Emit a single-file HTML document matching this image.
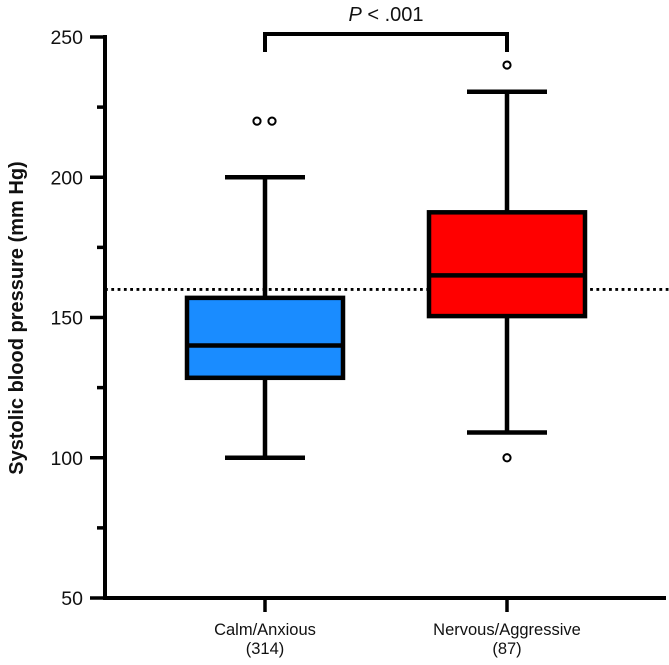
<!DOCTYPE html>
<html><head><meta charset="utf-8"><style>
body{margin:0;background:#fff}
svg{display:block;font-family:"Liberation Sans",Arial,sans-serif}
</style></head><body>
<svg id="chart" width="669" height="665" viewBox="0 0 669 665"></svg>
<script>
const categories=["Calm/Anxious","Nervous/Aggressive"];
const counts=["(314)","(87)"];
const q1=[128.5,150.5];
const median=[140,165];
const q3=[157,187.5];
const whiskerLow=[100,109];
const whiskerHigh=[200,230.5];
const outliers=[[220,220],[240,100]];
const outlierOffsets=[[-8,7],[0,0]];
const colors=["#1a8cff","#ff0000"];
const yTicks=[50,100,150,200,250];
const refLine=160;
const pLabel="< .001";

const NS="http://www.w3.org/2000/svg";
const svg=document.getElementById('chart');
const y0=598,y1=37,vmin=50,vmax=250;
const Y=v=>y0-(v-vmin)/(vmax-vmin)*(y0-y1);
const centers=[265,507];
const X=i=>centers[i];
function el(t,a,p){const e=document.createElementNS(NS,t);for(const k in a)e.setAttribute(k,a[k]);(p||svg).appendChild(e);return e;}
const AX=105,SW=4.5;
let a=el('line',{x1:AX,y1:Y(vmax)-2,x2:AX,y2:y0+2,stroke:'#000','stroke-width':4});


a=el('line',{x1:AX,y1:y0,x2:666,y2:y0,stroke:'#000','stroke-width':4});


yTicks.forEach((v,i)=>{
 const t=el('line',{x1:AX-15,y1:Y(v),x2:AX,y2:Y(v),stroke:'#000','stroke-width':3.5});
 
 
 const l=el('text',{x:83,y:Y(v)+7,'text-anchor':'end','font-size':19.5,fill:'#111'});
 l.textContent=v;
 
 
 if(i<yTicks.length-1){
  const m=el('line',{x1:AX-8,y1:Y(v+25),x2:AX,y2:Y(v+25),stroke:'#000','stroke-width':3.5});
  
  
 }
});
const yt=el('text',{x:0,y:0,transform:'translate(23,318) rotate(-90)','text-anchor':'middle','font-size':20,'font-weight':'bold',fill:'#111'});
yt.textContent='Systolic blood pressure (mm Hg)';


const rl=el('line',{x1:AX,y1:Y(refLine),x2:669,y2:Y(refLine),stroke:'#000','stroke-width':2.8,'stroke-dasharray':'2.8,3.5'});


categories.forEach((c,i)=>{
 const cx=X(i),hw=78,cw=40;
 const g=el('g',{});
 
 
 el('line',{x1:cx,y1:Y(whiskerHigh[i]),x2:cx,y2:Y(whiskerLow[i]),stroke:'#000','stroke-width':SW},g);
 el('line',{x1:cx-cw,y1:Y(whiskerHigh[i]),x2:cx+cw,y2:Y(whiskerHigh[i]),stroke:'#000','stroke-width':SW},g);
 el('line',{x1:cx-cw,y1:Y(whiskerLow[i]),x2:cx+cw,y2:Y(whiskerLow[i]),stroke:'#000','stroke-width':SW},g);
 el('rect',{x:cx-hw,y:Y(q3[i]),width:2*hw,height:Y(q1[i])-Y(q3[i]),fill:colors[i],stroke:'#000','stroke-width':SW},g);
 el('line',{x1:cx-hw,y1:Y(median[i]),x2:cx+hw,y2:Y(median[i]),stroke:'#000','stroke-width':SW},g);
 outliers[i].forEach((o,j)=>{
  const d=el('circle',{cx:cx+outlierOffsets[i][j],cy:Y(o),r:3.6,fill:'#fff',stroke:'#000','stroke-width':2},g);
  
  
 });
 const tk=el('line',{x1:cx,y1:y0,x2:cx,y2:y0+14,stroke:'#000','stroke-width':3.5});
 
 
 const l=el('text',{x:cx,y:635,'text-anchor':'middle','font-size':16.5,fill:'#111'});
 l.textContent=c;
 
 
 const n=el('text',{x:cx,y:654,'text-anchor':'middle','font-size':16.5,fill:'#111'});
 n.textContent=counts[i];
 
 
});
const br=el('polyline',{points:`${X(0)},52 ${X(0)},34 ${X(1)},34 ${X(1)},52`,fill:'none',stroke:'#000','stroke-width':4});


const pt=el('text',{x:(X(0)+X(1))/2,y:21,'text-anchor':'middle','font-size':20,fill:'#111'});
pt.innerHTML='<tspan font-style="italic">P</tspan> '+pLabel;


</script>
</body></html>
